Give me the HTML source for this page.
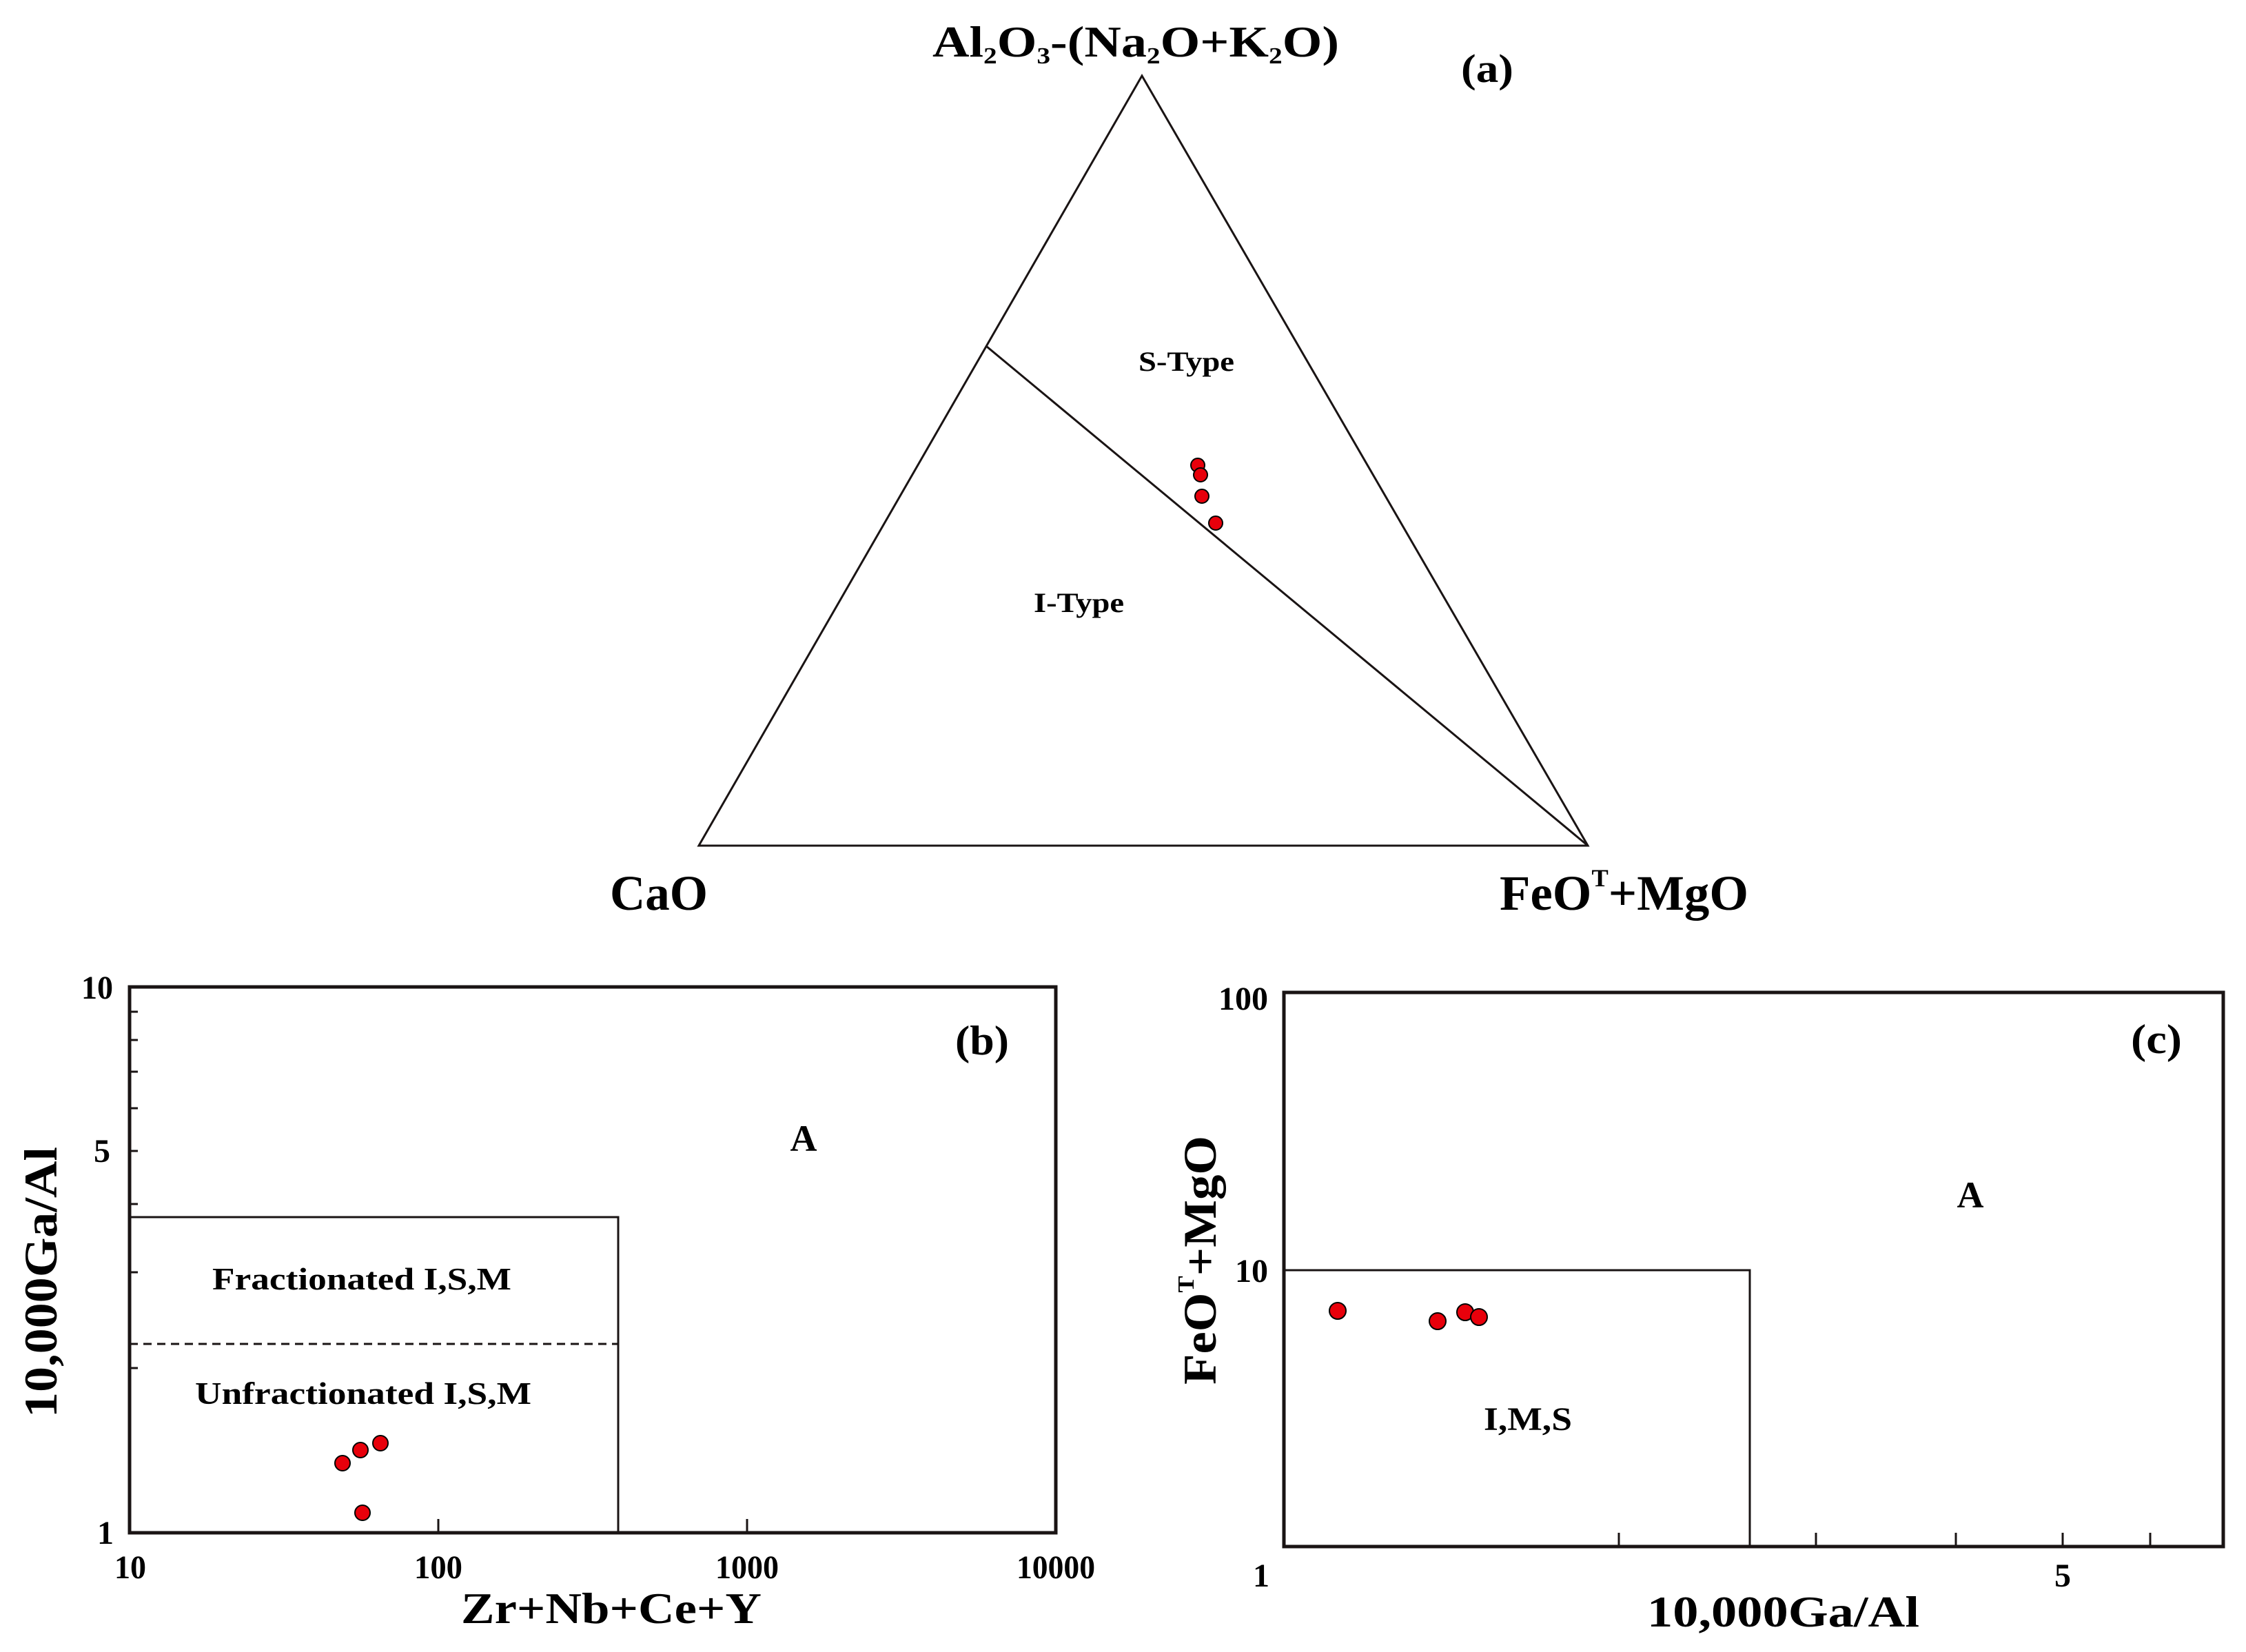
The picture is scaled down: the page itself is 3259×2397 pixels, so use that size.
<!DOCTYPE html>
<html><head><meta charset="utf-8"><style>
html,body{margin:0;padding:0;background:#fff;}
svg{display:block;}
text{font-family:"Liberation Serif",serif;font-weight:bold;fill:#000;}
</style></head><body>
<svg width="3259" height="2397" viewBox="0 0 3259 2397" xmlns="http://www.w3.org/2000/svg">
<!-- (a) ternary -->
<g stroke="#1a1414" stroke-width="3" fill="none">
<polygon points="1657,110 1014,1227 2304,1227"/>
<line x1="1432" y1="503" x2="2304" y2="1227"/>
</g>
<g fill="#e8000b" stroke="#000" stroke-width="2">
<circle cx="1738" cy="675" r="10"/>
<circle cx="1742" cy="689" r="10"/>
<circle cx="1744" cy="720" r="10"/>
<circle cx="1764" cy="759" r="10"/>
</g>
<text x="1353" y="82" font-size="64" textLength="590" lengthAdjust="spacingAndGlyphs">Al<tspan font-size="34" dy="10">2</tspan><tspan dy="-10">O</tspan><tspan font-size="34" dy="10">3</tspan><tspan dy="-10">-(Na</tspan><tspan font-size="34" dy="10">2</tspan><tspan dy="-10">O+K</tspan><tspan font-size="34" dy="10">2</tspan><tspan dy="-10">O)</tspan></text>
<text x="2158" y="119" font-size="58" text-anchor="middle" textLength="76" lengthAdjust="spacingAndGlyphs">(a)</text>
<text x="1652" y="538" font-size="40" textLength="139" lengthAdjust="spacingAndGlyphs">S-Type</text>
<text x="1500" y="888" font-size="40" textLength="131" lengthAdjust="spacingAndGlyphs">I-Type</text>
<text x="885" y="1320" font-size="72" textLength="142" lengthAdjust="spacingAndGlyphs">CaO</text>
<text x="2176" y="1320" font-size="72" textLength="361" lengthAdjust="spacingAndGlyphs">FeO<tspan font-size="36" dy="-34">T</tspan><tspan dy="34">+MgO</tspan></text>

<!-- (b) -->
<g stroke="#1a1414" fill="none">
<rect x="188" y="1432" width="1344" height="792" stroke-width="5"/>
<polyline points="188,1766 897,1766 897,2224" stroke-width="3"/>
<line x1="188" y1="1950" x2="897" y2="1950" stroke-width="3" stroke-dasharray="12,8"/>
<g stroke-width="3">
<line x1="188" y1="1985" x2="200" y2="1985"/>
<line x1="188" y1="1846" x2="200" y2="1846"/>
<line x1="188" y1="1747" x2="200" y2="1747"/>
<line x1="188" y1="1670" x2="200" y2="1670"/>
<line x1="188" y1="1608" x2="200" y2="1608"/>
<line x1="188" y1="1555" x2="200" y2="1555"/>
<line x1="188" y1="1509" x2="200" y2="1509"/>
<line x1="188" y1="1468" x2="200" y2="1468"/>
<line x1="636" y1="2224" x2="636" y2="2204"/>
<line x1="1084" y1="2224" x2="1084" y2="2204"/>
</g>
</g>
<g fill="#e8000b" stroke="#000" stroke-width="2">
<circle cx="497" cy="2123" r="11"/>
<circle cx="523" cy="2104" r="11"/>
<circle cx="552" cy="2094" r="11"/>
<circle cx="526" cy="2195" r="11"/>
</g>
<g font-size="48">
<text x="118" y="1449" textLength="46" lengthAdjust="spacingAndGlyphs">10</text>
<text x="160" y="1686" text-anchor="end">5</text>
<text x="165" y="2240" text-anchor="end">1</text>
<text x="166" y="2290" textLength="46" lengthAdjust="spacingAndGlyphs">10</text>
<text x="601" y="2290" textLength="70" lengthAdjust="spacingAndGlyphs">100</text>
<text x="1038" y="2290" textLength="92" lengthAdjust="spacingAndGlyphs">1000</text>
<text x="1475" y="2290" textLength="114" lengthAdjust="spacingAndGlyphs">10000</text>
</g>
<text x="669" y="2355" font-size="64" textLength="436" lengthAdjust="spacingAndGlyphs">Zr+Nb+Ce+Y</text>
<text transform="translate(82,2057) rotate(-90)" font-size="68" textLength="393" lengthAdjust="spacingAndGlyphs">10,000Ga/Al</text>
<text x="1425" y="1530" font-size="60" text-anchor="middle" textLength="78" lengthAdjust="spacingAndGlyphs">(b)</text>
<text x="1166" y="1670" font-size="54" text-anchor="middle">A</text>
<text x="308" y="1871" font-size="46" textLength="434" lengthAdjust="spacingAndGlyphs">Fractionated I,S,M</text>
<text x="283" y="2037" font-size="46" textLength="488" lengthAdjust="spacingAndGlyphs">Unfractionated I,S,M</text>

<!-- (c) -->
<g stroke="#1a1414" fill="none">
<rect x="1863" y="1440" width="1363" height="804" stroke-width="5"/>
<polyline points="1863,1843 2539,1843 2539,2244" stroke-width="3"/>
<g stroke-width="3">
<line x1="2349" y1="2244" x2="2349" y2="2224"/>
<line x1="2635" y1="2244" x2="2635" y2="2224"/>
<line x1="2838" y1="2244" x2="2838" y2="2224"/>
<line x1="2993" y1="2244" x2="2993" y2="2224"/>
<line x1="3120" y1="2244" x2="3120" y2="2224"/>
</g>
</g>
<g fill="#e8000b" stroke="#000" stroke-width="2">
<circle cx="1941" cy="1902" r="12"/>
<circle cx="2086" cy="1917" r="12"/>
<circle cx="2126" cy="1904" r="12"/>
<circle cx="2146" cy="1911" r="12"/>
</g>
<g font-size="48">
<text x="1768" y="1465" textLength="72" lengthAdjust="spacingAndGlyphs">100</text>
<text x="1792" y="1860" textLength="48" lengthAdjust="spacingAndGlyphs">10</text>
<text x="1830" y="2302" text-anchor="middle">1</text>
<text x="2993" y="2302" text-anchor="middle">5</text>
</g>
<text x="2390" y="2360" font-size="64" textLength="395" lengthAdjust="spacingAndGlyphs">10,000Ga/Al</text>
<text transform="translate(1764,2009) rotate(-90)" font-size="68" textLength="361" lengthAdjust="spacingAndGlyphs">FeO<tspan font-size="34" dy="-32">T</tspan><tspan dy="32">+MgO</tspan></text>
<text x="3129" y="1528" font-size="60" text-anchor="middle" textLength="74" lengthAdjust="spacingAndGlyphs">(c)</text>
<text x="2859" y="1752" font-size="54" text-anchor="middle">A</text>
<text x="2217" y="2075" font-size="48" text-anchor="middle" textLength="128" lengthAdjust="spacingAndGlyphs">I,M,S</text>
</svg>
</body></html>
